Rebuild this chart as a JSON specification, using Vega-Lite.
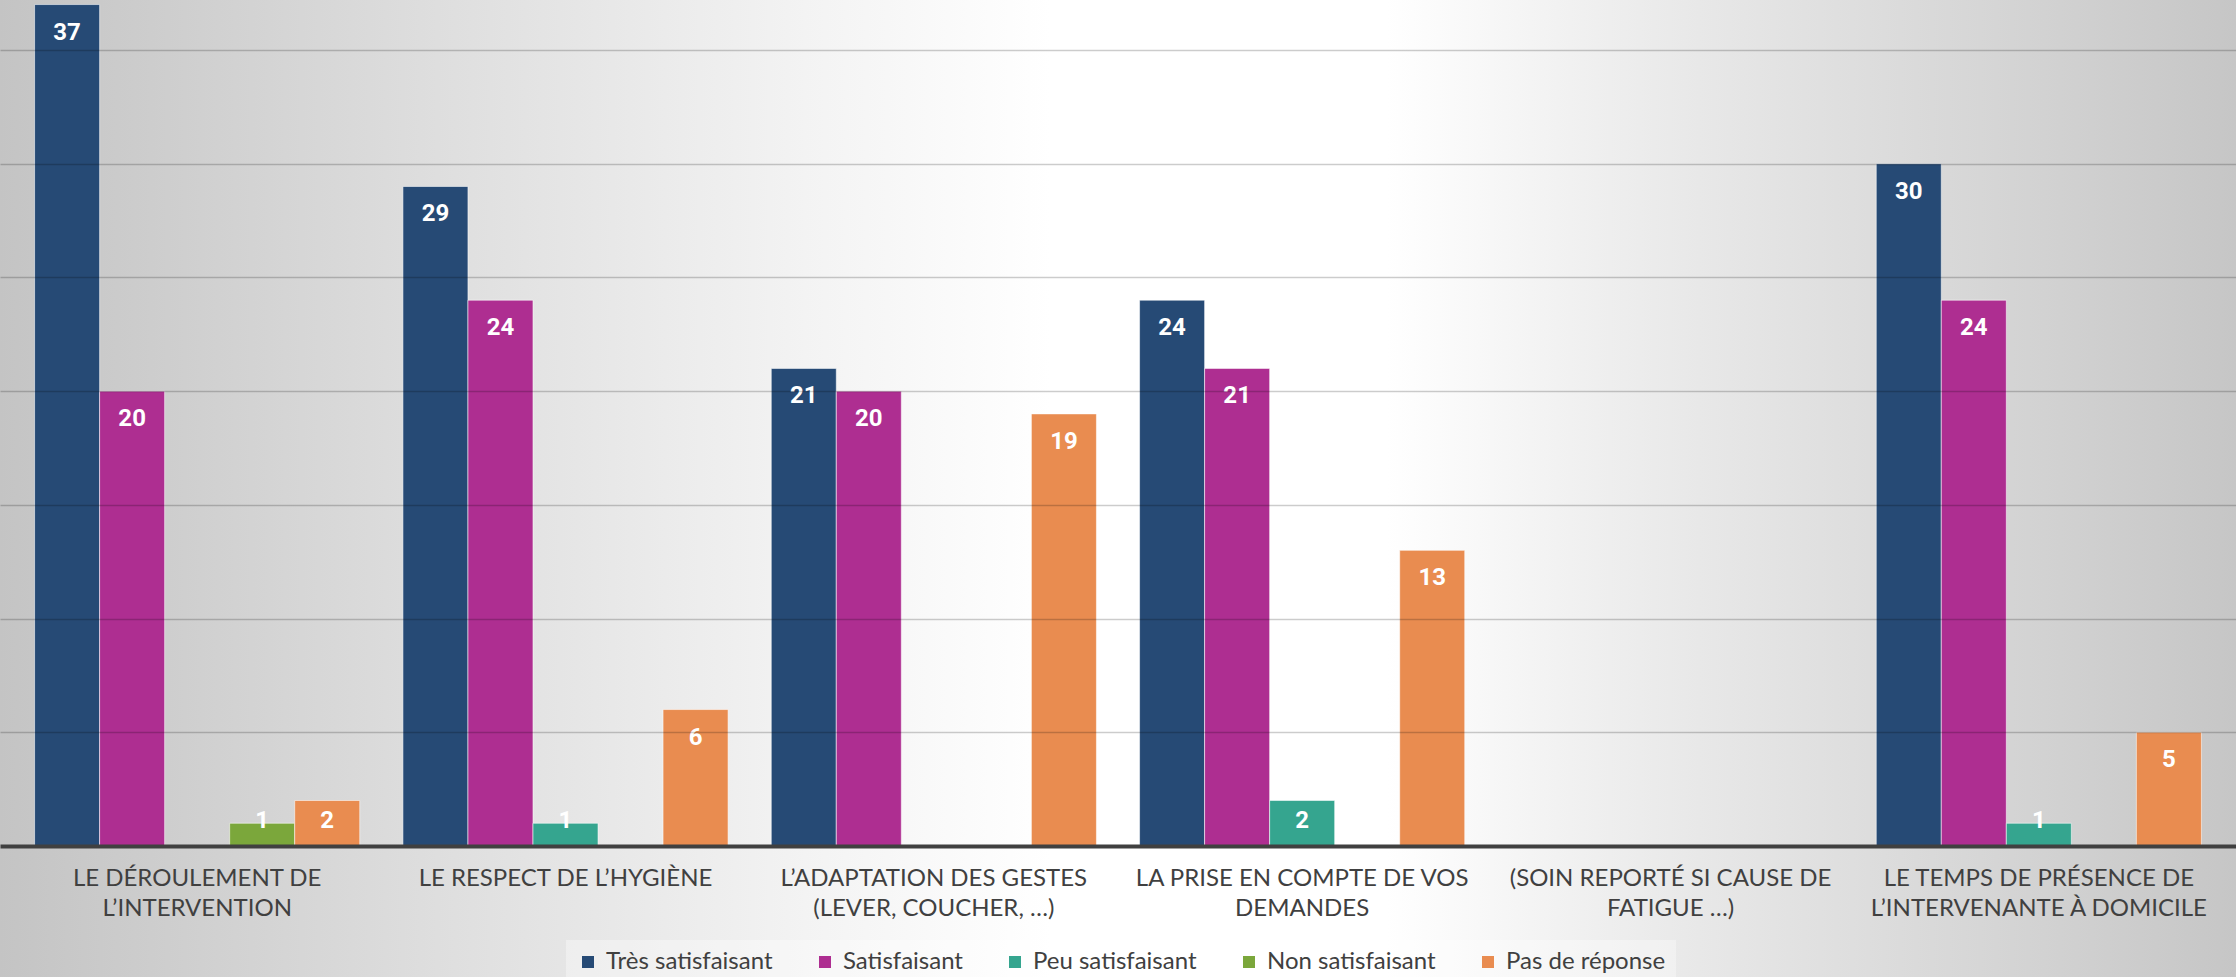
{
  "$schema": "https://vega.github.io/schema/vega-lite/v6.json",
  "width": 2236,
  "height": 977,
  "autosize": {"type": "none"},
  "padding": 0,
  "background": "#dcdcdc",
  "view": {
    "stroke": null,
    "fill": {
      "gradient": "linear",
      "x1": 0, "y1": 0, "x2": 1, "y2": 0,
      "stops": [
        {"offset": 0, "color": "#c4c4c4"},
        {"offset": 0.18, "color": "#dcdcdc"},
        {"offset": 0.36, "color": "#f3f3f3"},
        {"offset": 0.47, "color": "#ffffff"},
        {"offset": 0.62, "color": "#ffffff"},
        {"offset": 0.72, "color": "#eeeeee"},
        {"offset": 0.8, "color": "#e2e2e2"},
        {"offset": 1, "color": "#c6c6c6"}
      ]
    }
  },
  "data": {
    "values": [
      {"item": "LE DÉROULEMENT DE\nL’INTERVENTION", "serie": "Très satisfaisant", "value": 37},
      {"item": "LE DÉROULEMENT DE\nL’INTERVENTION", "serie": "Satisfaisant", "value": 20},
      {"item": "LE DÉROULEMENT DE\nL’INTERVENTION", "serie": "Non satisfaisant", "value": 1},
      {"item": "LE DÉROULEMENT DE\nL’INTERVENTION", "serie": "Pas de réponse", "value": 2},
      {"item": "LE RESPECT DE L’HYGIÈNE", "serie": "Très satisfaisant", "value": 29},
      {"item": "LE RESPECT DE L’HYGIÈNE", "serie": "Satisfaisant", "value": 24},
      {"item": "LE RESPECT DE L’HYGIÈNE", "serie": "Peu satisfaisant", "value": 1},
      {"item": "LE RESPECT DE L’HYGIÈNE", "serie": "Pas de réponse", "value": 6},
      {"item": "L’ADAPTATION DES GESTES\n(LEVER, COUCHER, …)", "serie": "Très satisfaisant", "value": 21},
      {"item": "L’ADAPTATION DES GESTES\n(LEVER, COUCHER, …)", "serie": "Satisfaisant", "value": 20},
      {"item": "L’ADAPTATION DES GESTES\n(LEVER, COUCHER, …)", "serie": "Pas de réponse", "value": 19},
      {"item": "LA PRISE EN COMPTE DE VOS\nDEMANDES", "serie": "Très satisfaisant", "value": 24},
      {"item": "LA PRISE EN COMPTE DE VOS\nDEMANDES", "serie": "Satisfaisant", "value": 21},
      {"item": "LA PRISE EN COMPTE DE VOS\nDEMANDES", "serie": "Peu satisfaisant", "value": 2},
      {"item": "LA PRISE EN COMPTE DE VOS\nDEMANDES", "serie": "Pas de réponse", "value": 13},
      {"item": "LE TEMPS DE PRÉSENCE DE\nL’INTERVENANTE À DOMICILE", "serie": "Très satisfaisant", "value": 30},
      {"item": "LE TEMPS DE PRÉSENCE DE\nL’INTERVENANTE À DOMICILE", "serie": "Satisfaisant", "value": 24},
      {"item": "LE TEMPS DE PRÉSENCE DE\nL’INTERVENANTE À DOMICILE", "serie": "Peu satisfaisant", "value": 1},
      {"item": "LE TEMPS DE PRÉSENCE DE\nL’INTERVENANTE À DOMICILE", "serie": "Pas de réponse", "value": 5}
    ]
  },
  "encoding": {
    "x": {
      "field": "item",
      "type": "nominal",
      "sort": null,
      "scale": {
        "domain": [
          "LE DÉROULEMENT DE\nL’INTERVENTION",
          "LE RESPECT DE L’HYGIÈNE",
          "L’ADAPTATION DES GESTES\n(LEVER, COUCHER, …)",
          "LA PRISE EN COMPTE DE VOS\nDEMANDES",
          "(SOIN REPORTÉ SI CAUSE DE\nFATIGUE …)",
          "LE TEMPS DE PRÉSENCE DE\nL’INTERVENANTE À DOMICILE"
        ],
        "paddingInner": 0,
        "paddingOuter": 0.0353
      },
      "axis": {
        "orient": "bottom",
        "offset": -131,
        "title": null,
        "labelAngle": 0,
        "labelExpr": "split(datum.label, '\\n')",
        "labelFont": "Lato",
        "labelFontSize": 24,
        "labelColor": "#404040",
        "labelLineHeight": 30,
        "labelPadding": 20,
        "labelLimit": 500,
        "ticks": false,
        "domainColor": "#404040",
        "domainWidth": 4,
        "grid": false,
        "zindex": 1
      }
    },
    "xOffset": {
      "field": "serie",
      "type": "nominal",
      "scale": {
        "domain": ["Très satisfaisant", "Satisfaisant", "Peu satisfaisant", "Non satisfaisant", "Pas de réponse"],
        "paddingInner": 0,
        "paddingOuter": 0.332
      }
    }
  },
  "layer": [
    {
      "mark": {"type": "bar", "stroke": "#ffffff", "strokeOpacity": 0.55, "strokeWidth": 1},
      "encoding": {
        "y": {
          "field": "value",
          "type": "quantitative",
          "scale": {"domain": [-5.76, 37.2], "nice": false, "zero": false},
          "axis": {
            "title": null,
            "labels": false,
            "ticks": false,
            "domain": false,
            "grid": true,
            "values": [5, 10, 15, 20, 25, 30, 35],
            "gridColor": "#000000",
            "gridOpacity": 0.2,
            "gridWidth": 1.5,
            "zindex": 1
          }
        },
        "y2": {"datum": 0},
        "color": {
          "field": "serie",
          "type": "nominal",
          "scale": {
            "domain": ["Très satisfaisant", "Satisfaisant", "Peu satisfaisant", "Non satisfaisant", "Pas de réponse"],
            "range": ["#264a75", "#ae2e91", "#35a58f", "#7ba73b", "#e98c50"]
          },
          "legend": {
            "orient": "none",
            "legendX": 566,
            "legendY": 940,
            "direction": "horizontal",
            "gridAlign": "none",
            "title": null,
            "labelFont": "Lato",
            "labelFontSize": 24,
            "labelColor": "#404040",
            "labelLimit": 400,
            "labelOffset": 6,
            "columnPadding": 40,
            "symbolType": "square",
            "symbolSize": 144,
            "symbolStrokeWidth": 0,
            "padding": 10,
            "fillColor": "rgba(255,255,255,0.35)"
          }
        }
      }
    },
    {
      "transform": [{"filter": "datum.value >= 3"}],
      "mark": {"type": "text", "color": "#ffffff", "font": "Roboto", "fontWeight": "bold", "fontSize": 24, "baseline": "middle", "dy": 28},
      "encoding": {
        "y": {"field": "value", "type": "quantitative"},
        "text": {"field": "value", "type": "quantitative"}
      }
    },
    {
      "transform": [{"filter": "datum.value < 3"}],
      "mark": {"type": "text", "color": "#ffffff", "font": "Roboto", "fontWeight": "bold", "fontSize": 24, "baseline": "middle"},
      "encoding": {
        "y": {"datum": 1.1, "type": "quantitative"},
        "text": {"field": "value", "type": "quantitative"}
      }
    }
  ]
}
